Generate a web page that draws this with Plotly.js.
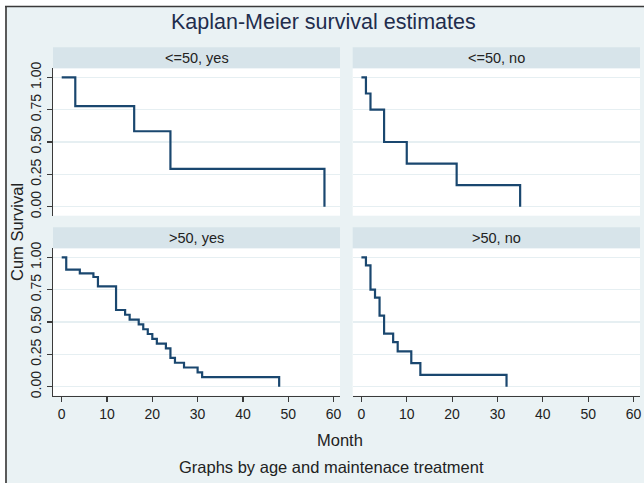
<!DOCTYPE html>
<html>
<head>
<meta charset="utf-8">
<script src="https://cdn.plot.ly/plotly-3.0.1.min.js"></script>
<style>
html,body{margin:0;padding:0;background:#ffffff;}
#chart{width:644px;height:483px;}
</style>
</head>
<body>
<div id="chart"></div>
<script>
// ---- data ----
const panelTitles = ["<=50, yes", "<=50, no", ">50, yes", ">50, no"];

const timeYoungYes = [0, 3, 16, 24, 58];
const survYoungYes = [1, 0.778, 0.583, 0.292, 0];

const timeYoungNo = [0, 1, 2, 5, 10, 21, 35];
const survYoungNo = [1, 0.875, 0.75, 0.5, 0.333, 0.167, 0];

const timeOldYes = [0, 1, 4, 7, 8, 12, 14, 15, 17, 18, 19, 20, 21, 23, 24, 25, 27, 30, 31, 48];
const survOldYes = [1, 0.905, 0.876, 0.848, 0.776, 0.593, 0.556, 0.519, 0.481, 0.444, 0.407, 0.370, 0.333, 0.296, 0.222, 0.185, 0.148, 0.111, 0.074, 0];

const timeOldNo = [0, 1, 2, 3, 4, 5, 7, 8, 11, 13, 32];
const survOldNo = [1, 0.938, 0.75, 0.688, 0.55, 0.41, 0.344, 0.273, 0.182, 0.091, 0];

const xTickVals = [0, 10, 20, 30, 40, 50, 60];
const yTickVals = [0, 0.25, 0.5, 0.75, 1];
const yTickText = ["0.00", "0.25", "0.50", "0.75", "1.00"];

const chartTitle = "Kaplan-Meier survival estimates";
const xTitle = "Month";
const yTitle = "Cum Survival";
const noteText = "Graphs by age and maintenace treatment";

// ---- styling / geometry ----
const W = 644, H = 483;
const FONT = "Liberation Sans, Arial, Helvetica, sans-serif";
const lineColor = "#1a476f";
const bgColor = "#eaf2f4";
const stripColor = "#d7e4ea";
const gridColor = "#e6eff2";
const axisColor = "#3a3a3a";
const textColor = "#222222";

const px = v => v / W;
const py = v => 1 - v / H;

const colX = [[53, 340], [352.7, 640]];
const rowY = [[68.3, 215.7], [248.3, 395.7]]; // plot area top,bottom in px
const stripH = 21;

const series = [
  [timeYoungYes, survYoungYes],
  [timeYoungNo, survYoungNo],
  [timeOldYes, survOldYes],
  [timeOldNo, survOldNo]
];

const traces = [];
const layout = {
  width: W, height: H,
  margin: {l: 0, r: 0, t: 0, b: 0, pad: 0},
  paper_bgcolor: bgColor,
  plot_bgcolor: "#ffffff",
  showlegend: false,
  font: {family: FONT, color: textColor, size: 13},
  shapes: [],
  annotations: []
};

for (let i = 0; i < 4; i++) {
  const r = Math.floor(i / 2), c = i % 2;
  const n = i + 1;
  const xa = n === 1 ? "x" : "x" + n;
  const ya = n === 1 ? "y" : "y" + n;
  traces.push({
    type: "scatter", mode: "lines",
    x: series[i][0], y: series[i][1],
    xaxis: xa, yaxis: ya,
    line: {shape: "hv", color: lineColor, width: 2.2},
    hoverinfo: "skip", cliponaxis: false
  });
  const xKey = n === 1 ? "xaxis" : "xaxis" + n;
  const yKey = n === 1 ? "yaxis" : "yaxis" + n;
  const bottom = r === 1, left = c === 0;
  layout[xKey] = {
    domain: [px(colX[c][0]), px(colX[c][1])],
    anchor: ya,
    range: [-1.92, 61.43],
    tickvals: xTickVals,
    showgrid: false, zeroline: false,
    showline: bottom, linecolor: axisColor, linewidth: 1.2,
    ticks: bottom ? "outside" : "", ticklen: 5, tickwidth: 1.2, tickcolor: axisColor,
    showticklabels: bottom,
    tickfont: {family: FONT, size: 14, color: textColor},
    fixedrange: true
  };
  layout[yKey] = {
    domain: [py(rowY[r][1]), py(rowY[r][0])],
    anchor: xa,
    range: [-0.07, 1.07],
    tickvals: yTickVals, ticktext: yTickText,
    showgrid: true, gridcolor: gridColor, gridwidth: 1.2,
    zeroline: false,
    showline: left, linecolor: axisColor, linewidth: 1.2,
    ticks: left ? "outside" : "", ticklen: 5, tickwidth: 1.2, tickcolor: axisColor,
    showticklabels: left, tickangle: -90,
    tickfont: {family: FONT, size: 14, color: textColor},
    fixedrange: true
  };
  // strip header
  layout.shapes.push({
    type: "rect", xref: "paper", yref: "paper", layer: "below",
    x0: px(colX[c][0]), x1: px(colX[c][1]),
    y0: py(rowY[r][0]), y1: py(rowY[r][0] - stripH),
    fillcolor: stripColor, line: {width: 0}
  });
  layout.annotations.push({
    xref: "paper", yref: "paper",
    x: px((colX[c][0] + colX[c][1]) / 2), y: py(rowY[r][0] - stripH / 2),
    text: panelTitles[i], showarrow: false,
    xanchor: "center", yanchor: "middle",
    font: {family: FONT, size: 14.5, color: textColor}
  });
}

// outer white margin + frame border
layout.shapes.push(
  {type: "rect", xref: "paper", yref: "paper", x0: 0, x1: px(5), y0: 0, y1: 1, fillcolor: "#ffffff", line: {width: 0}},
  {type: "rect", xref: "paper", yref: "paper", x0: 0, x1: 1, y0: py(6), y1: 1, fillcolor: "#ffffff", line: {width: 0}},
  {type: "line", xref: "paper", yref: "paper", x0: px(6), x1: px(6), y0: 0, y1: py(6), line: {color: "#5a5a5a", width: 2}},
  {type: "line", xref: "paper", yref: "paper", x0: px(5), x1: 1, y0: py(6.5), y1: py(6.5), line: {color: "#3a3a3a", width: 1.5}}
);

layout.annotations.push(
  {xref: "paper", yref: "paper", x: px(323), y: py(22), text: chartTitle, showarrow: false,
   xanchor: "center", yanchor: "middle", font: {family: FONT, size: 21.5, color: "#1f2d4d"}},
  {xref: "paper", yref: "paper", x: px(340), y: py(440), text: xTitle, showarrow: false,
   xanchor: "center", yanchor: "middle", font: {family: FONT, size: 16.5, color: textColor}},
  {xref: "paper", yref: "paper", x: px(331), y: py(467), text: noteText, showarrow: false,
   xanchor: "center", yanchor: "middle", font: {family: FONT, size: 16.5, color: textColor}},
  {xref: "paper", yref: "paper", x: px(17), y: py(232), text: yTitle, showarrow: false, textangle: -90,
   xanchor: "center", yanchor: "middle", font: {family: FONT, size: 16.5, color: textColor}}
);

Plotly.newPlot("chart", traces, layout, {displayModeBar: false, staticPlot: true});
</script>
</body>
</html>
